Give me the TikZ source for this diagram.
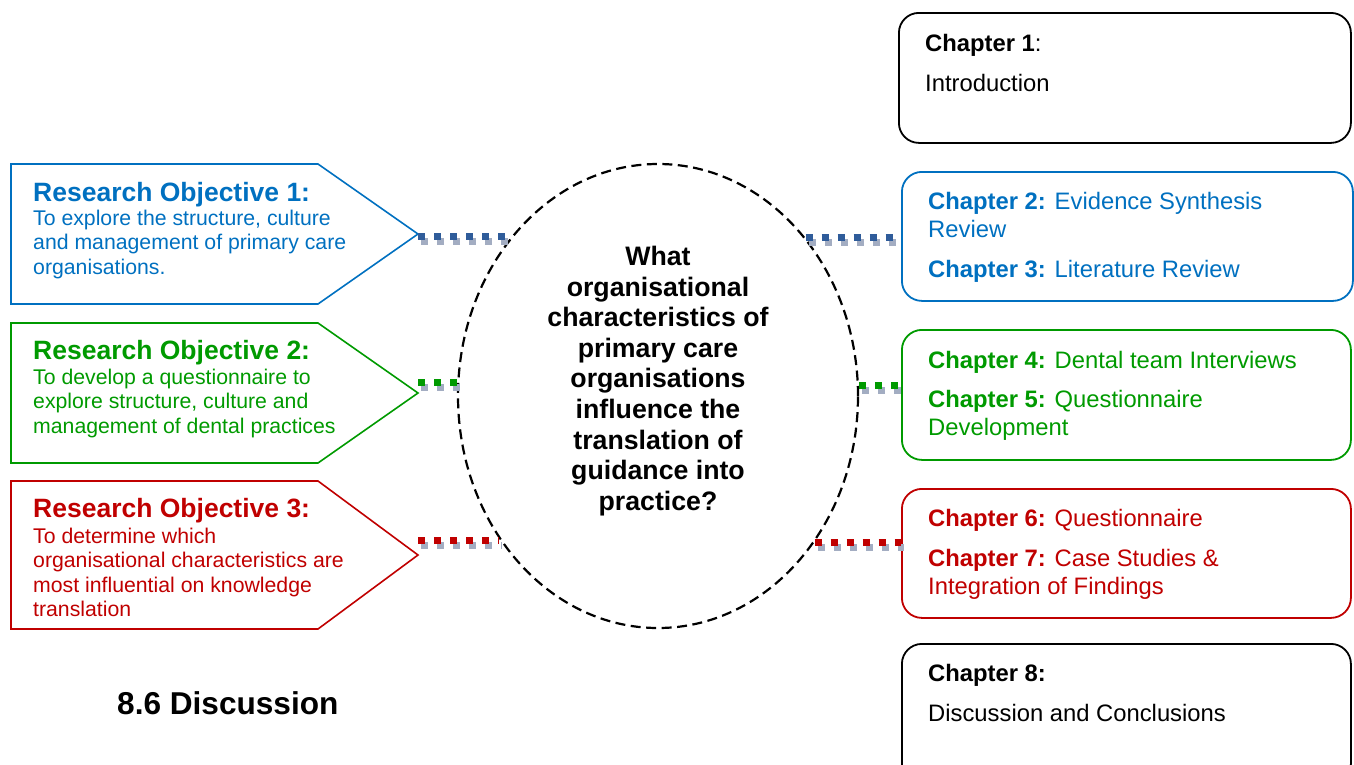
\documentclass[tikz,border=0pt]{standalone}
\usepackage{fontspec}
\setmainfont{Liberation Sans}
\usetikzlibrary{shapes.geometric}

\definecolor{objblue}{HTML}{0070C0}
\definecolor{objgreen}{HTML}{009A00}
\definecolor{objred}{HTML}{C00000}
\definecolor{dotblue}{HTML}{2F5C9A}
\definecolor{dotshade}{HTML}{A3ADC2}

\tikzset{
  pent/.style={draw=#1, line width=1.6pt, line join=miter},
  objtitle/.style={anchor=base west, inner sep=0pt, text=#1,
    font=\fontsize{26.5}{30}\selectfont\bfseries},
  objbody/.style={anchor=base west, align=left, inner sep=0pt, text=#1,
    font=\fontsize{21.25}{24.4}\selectfont},
  chbox/.style={draw=#1, line width=1.8pt, rounded corners=20pt,
    anchor=north west, inner sep=0pt},
  chtext/.style={anchor=base west, align=left, inner sep=0pt, text=#1,
    font=\fontsize{23.8}{28}\selectfont},
  link/.style={draw=#1, line width=7pt, dash pattern=on 7pt off 9pt,
    preaction={draw=dotshade, line width=7pt, dash pattern=on 7pt off 9pt,
      transform canvas={shift={(3pt,-5pt)}}}},
}

\begin{document}
\begin{tikzpicture}[x=1pt, y=-1pt]
\useasboundingbox (0,0) rectangle (1354,764);
\clip (0,0) rectangle (1354,764);

% central research question (multi-line nodes sit on their last baseline)
\node[ellipse, draw, line width=2.2pt, dash pattern=on 10pt off 5.5pt,
      minimum width=400pt, minimum height=464pt, inner sep=0pt] (q) at (658,396) {};
\node[anchor=base, align=center, inner sep=0pt,
      font=\fontsize{26.7}{30.6}\selectfont\bfseries] (qt) at (658,510.3)
  {What\\organisational\\characteristics of\\primary care\\organisations\\influence the\\translation of\\guidance into\\practice?};

% research objectives (arrow-shaped panels)
\draw[pent=objblue] (11,164) -- (318,164) -- (418,234) -- (318,304) -- (11,304) -- cycle;
\coordinate (o1tip) at (418,236.5);
\node[objtitle=objblue] (o1t) at (33,201.5) {Research Objective 1:};
\node[objbody=objblue] (o1b) at (33,274.3)
  {To explore the structure, culture\\and management of primary care\\organisations.};

\draw[pent=objgreen] (11,323) -- (318,323) -- (418,393) -- (318,463) -- (11,463) -- cycle;
\coordinate (o2tip) at (418,382.5);
\node[objtitle=objgreen] (o2t) at (33,359.5) {Research Objective 2:};
\node[objbody=objgreen] (o2b) at (33,433.3)
  {To develop a questionnaire to\\explore structure, culture and\\management of dental practices};

\draw[pent=objred] (11,481) -- (318,481) -- (418,555) -- (318,629) -- (11,629) -- cycle;
\coordinate (o3tip) at (418,540);
\node[objtitle=objred] (o3t) at (33,517.5) {Research Objective 3:};
\node[objbody=objred] (o3b) at (33,616.7)
  {To determine which\\organisational characteristics are\\most influential on knowledge\\translation};

% thesis chapters
\node[chbox=black, minimum width=452pt, minimum height=130pt] (ch1) at (898,12) {};
\node[chtext=black] (ch1t) at (925,51.5) {\textbf{Chapter 1}:};
\node[chtext=black] (ch1b) at (925,91.5) {Introduction};

\node[chbox=objblue, minimum width=451pt, minimum height=129pt] (ch23) at (901,171) {};
\node[chtext=objblue] (ch2t) at (928,237.5) {\textbf{Chapter 2:} Evidence Synthesis\\Review};
\node[chtext=objblue] (ch3t) at (928,277.5) {\textbf{Chapter 3:} Literature Review};

\node[chbox=objgreen, minimum width=449pt, minimum height=130pt] (ch45) at (901,329) {};
\node[chtext=objgreen] (ch4t) at (928,368.5) {\textbf{Chapter 4:} Dental team Interviews};
\node[chtext=objgreen] (ch5t) at (928,435.5) {\textbf{Chapter 5:} Questionnaire\\Development};

\node[chbox=objred, minimum width=449pt, minimum height=129pt] (ch67) at (901,488) {};
\node[chtext=objred] (ch6t) at (928,526.5) {\textbf{Chapter 6:} Questionnaire};
\node[chtext=objred] (ch7t) at (928,594.5) {\textbf{Chapter 7:} Case Studies \&\\Integration of Findings};

\node[chbox=black, minimum width=449pt, minimum height=140pt] (ch8) at (901,643) {};
\node[chtext=black] (ch8t) at (928,681.5) {\textbf{Chapter 8:}};
\node[chtext=black] (ch8b) at (928,721.5) {Discussion and Conclusions};

% section heading
\node[anchor=base west, inner sep=0pt, font=\fontsize{31.6}{36}\selectfont\bfseries]
  (sec) at (117,714) {8.6 Discussion};

% points where the links meet the ellipse
\coordinate (e1l) at (q.132.15);
\coordinate (e1r) at (q.47.85);
\coordinate (e2l) at (q.176.13);
\coordinate (e2r) at (q.3.87);
\coordinate (e3l) at (q.222.56);
\coordinate (e3r) at (q.317.44);

% dotted links: objective -> question -> chapters
\draw[link=dotblue] (o1tip) -- (o1tip -| e1l);
\draw[link=dotblue] (e1r) -- (e1r -| ch23.west);
\draw[link=objgreen] (o2tip) -- (o2tip -| e2l);
\draw[link=objgreen] (e2r) -- (e2r -| ch45.west);
\draw[link=objred] (o3tip) -- (o3tip -| e3l);
\draw[link=objred] (e3r) -- (e3r -| ch67.west);
\end{tikzpicture}
\end{document}
